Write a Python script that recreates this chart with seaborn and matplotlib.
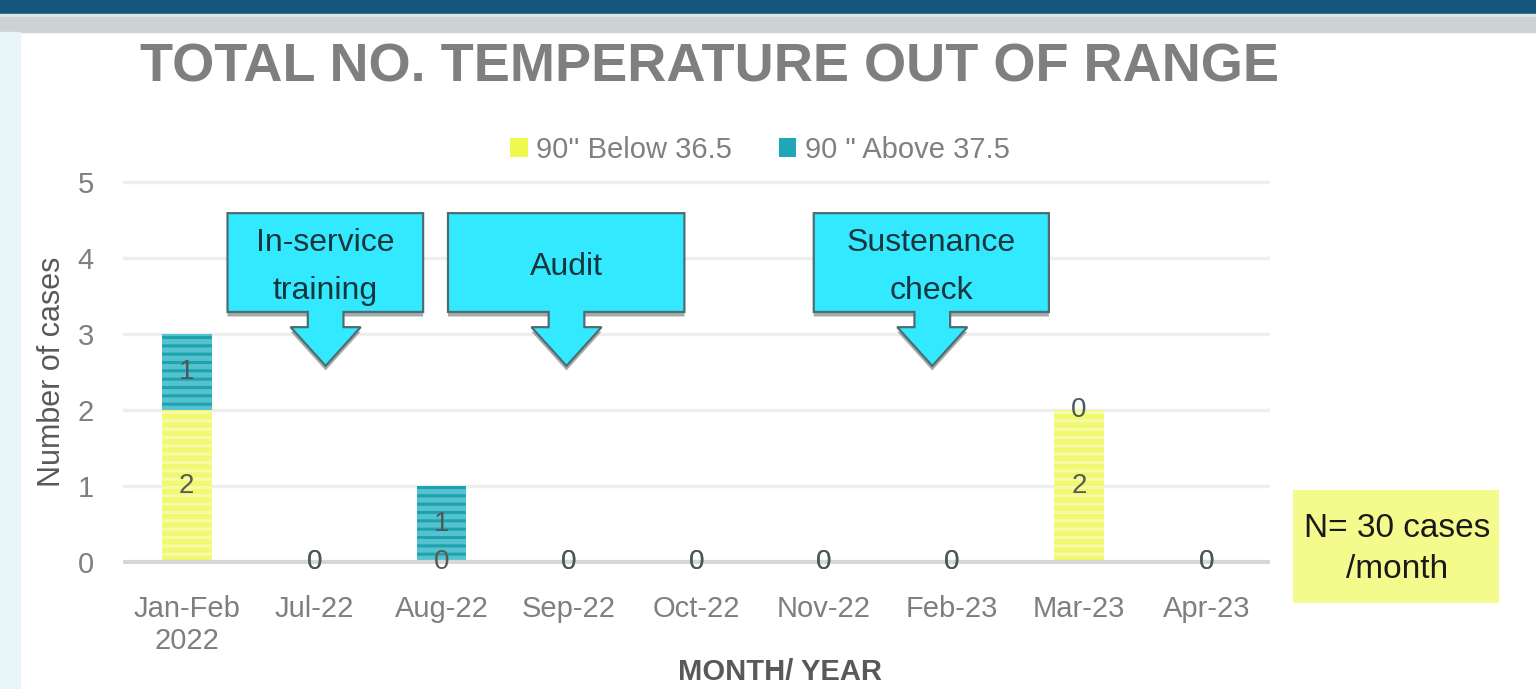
import matplotlib
matplotlib.use("Agg")
import matplotlib.pyplot as plt
from matplotlib.patches import Rectangle, Polygon, Patch
import seaborn as sns

# data
months = ["Jan-Feb\n2022", "Jul-22", "Aug-22", "Sep-22", "Oct-22",
          "Nov-22", "Feb-23", "Mar-23", "Apr-23"]
below_365 = [2, 0, 0, 0, 0, 0, 0, 2, 0]
above_375 = [1, 0, 1, 0, 0, 0, 0, 0, 0]
series_names = ["90'' Below 36.5", '90 " Above 37.5']
callout_texts = ["In-service\ntraining", "Audit", "Sustenance\ncheck"]
note_text = "N= 30 cases\n/month"

YELLOW, YELLOW_STRIPE = "#f1f872", "#f7fba8"
TEAL, TEAL_STRIPE = "#55c3ce", "#1ea2b2"
CYAN = "#33e9ff"

sns.set_theme(style="white")
plt.rcParams["font.family"] = ["Liberation Sans", "DejaVu Sans"]
plt.rcParams["hatch.linewidth"] = 2.2

W, H = 1536, 689
fig = plt.figure(figsize=(W / 100, H / 100), dpi=100)
fig.patch.set_facecolor("white")

# slide background pieces
fig.patches.append(Rectangle((0, 1 - 14 / H), 1, 14 / H, transform=fig.transFigure,
                             color="#14577a", zorder=0))
fig.patches.append(Rectangle((0, 1 - 17 / H), 1, 3 / H, transform=fig.transFigure,
                             color="#dbe6ea", zorder=0))
fig.patches.append(Rectangle((0, 1 - 32 / H), 1, 15 / H, transform=fig.transFigure,
                             color="#cbd3d3", zorder=0))
fig.patches.append(Rectangle((0, 0), 20 / W, 1 - 32 / H, transform=fig.transFigure,
                             color="#e9f6f8", zorder=0))

ax = fig.add_axes([123 / W, 0.181, 1147 / W, 0.5582])

sns.barplot(x=months, y=below_365, color=YELLOW, saturation=1, width=0.39,
            errorbar=None, edgecolor=YELLOW_STRIPE, linewidth=0, hatch="--", ax=ax)
sns.barplot(x=months, y=above_375, bottom=below_365, color=TEAL, saturation=1,
            width=0.39, errorbar=None, edgecolor=TEAL_STRIPE, linewidth=0,
            hatch="--", ax=ax)

label_colors = ["#5a5a52", "#4a5a5c"]
for cont, col in zip(ax.containers, label_colors):
    ax.bar_label(cont, label_type="center", fontsize=20, color=col)

ax.set_xlim(-0.5, 8.5)
ax.set_ylim(-0.03, 5.03)
ax.set_yticks(range(6))
ax.yaxis.grid(True, color="#eeeeee", linewidth=2.5)
ax.set_axisbelow(True)
ax.axhline(0, color="#d6d6d6", linewidth=3, zorder=1)
sns.despine(ax=ax, left=True, bottom=True)
ax.tick_params(axis="both", length=0, labelsize=21, labelcolor="#7f7f7f")
ax.tick_params(axis="x", pad=22)
ax.tick_params(axis="y", pad=21)
ax.set_xlabel("")
ax.set_ylabel("")


def callout(ax, text, x0, x1, tip_x, y_top=4.59, y_bot=3.29, y_stem=3.09,
            y_tip=2.58, stem=0.14, head=0.275):
    pts = [(x0, y_top), (x1, y_top), (x1, y_bot), (tip_x + stem, y_bot),
           (tip_x + stem, y_stem), (tip_x + head, y_stem), (tip_x, y_tip),
           (tip_x - head, y_stem), (tip_x - stem, y_stem), (tip_x - stem, y_bot),
           (x0, y_bot)]
    shadow = [(x, y - 0.06) for x, y in pts]
    ax.add_patch(Polygon(shadow, closed=True, facecolor="#a3abab", edgecolor="none",
                         zorder=5, clip_on=False))
    ax.add_patch(Polygon(pts, closed=True, facecolor=CYAN, edgecolor="#4e6d72",
                         linewidth=1.6, zorder=6, clip_on=False))
    ax.text((x0 + x1) / 2, (y_top + y_bot) / 2 - 0.06, text, ha="center",
            va="center", fontsize=23, color="#17363c", linespacing=1.75, zorder=7)


callout(ax, callout_texts[0], 0.32, 1.855, 1.09)
callout(ax, callout_texts[1], 2.05, 3.905, 2.98)
callout(ax, callout_texts[2], 4.92, 6.765, 5.85)

# title, axis titles, legend
fig.text(709 / W, 1 - 68 / H, "TOTAL NO. TEMPERATURE OUT OF RANGE", ha="center",
         va="center", fontsize=39, fontweight="bold", color="#7f7f7f")
fig.text(52 / W, 1 - 372 / H, "Number of cases", rotation=90, ha="center",
         va="center", fontsize=22, color="#595959")
fig.text(780 / W, 3 / H, "MONTH/ YEAR", ha="center", va="bottom",
         fontsize=21, fontweight="bold", color="#595959")

handles = [Patch(facecolor="#eef84e", edgecolor="none"),
           Patch(facecolor="#1ea7b7", edgecolor="none")]
fig.legend(handles, series_names, loc="center", bbox_to_anchor=(760 / W, 1 - 150 / H),
           ncol=2, frameon=False, fontsize=21, labelcolor="#808080",
           handlelength=0.6, handleheight=0.6, handletextpad=0.3, columnspacing=1.6)

# N note box
fig.patches.append(Rectangle((1293 / W, 1 - 603 / H), 206 / W, 113 / H,
                             transform=fig.transFigure, facecolor="#f4fb8c",
                             edgecolor="none", zorder=1))
fig.text(1397 / W, 1 - 549 / H, note_text, ha="center", va="center", fontsize=24,
         color="#1a1a1a", linespacing=1.45)

fig.savefig("out.png", dpi=100)
